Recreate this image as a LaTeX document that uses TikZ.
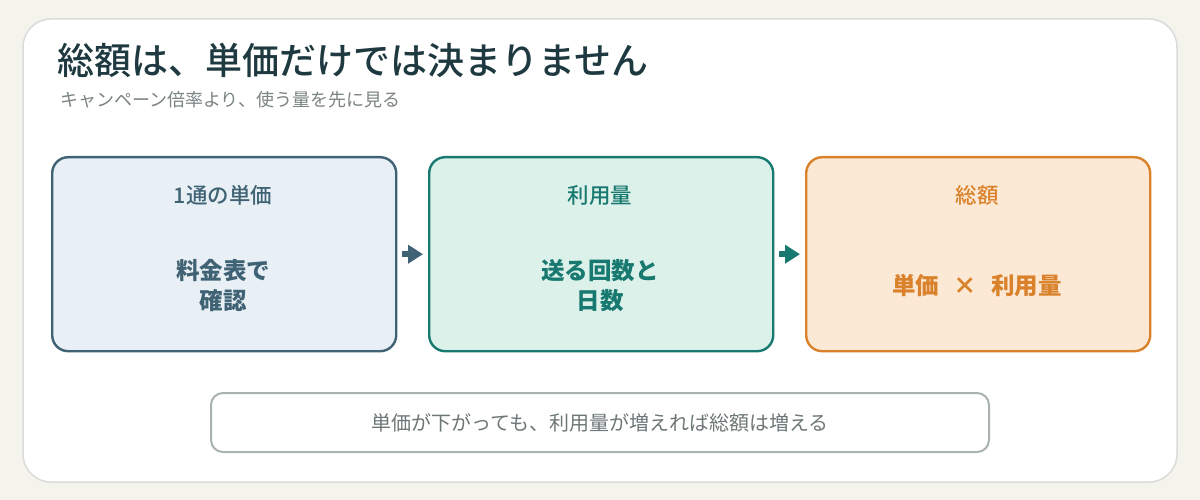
\documentclass[tikz,border=0pt]{standalone}
\usepackage{fontspec}
\newfontfamily\jp{Noto Sans CJK JP}
\newfontfamily\jpm{Noto Sans CJK JP Medium}
\usetikzlibrary{arrows.meta}
\definecolor{bgc}{HTML}{F4F3EC}
\definecolor{cardline}{HTML}{DADDDA}
\definecolor{titlec}{HTML}{1E3A40}
\definecolor{subc}{HTML}{7B8383}
\definecolor{blueline}{HTML}{3F6274}
\definecolor{bluefill}{HTML}{E8F0F5}
\definecolor{tealline}{HTML}{17796F}
\definecolor{tealfill}{HTML}{DDF1EB}
\definecolor{orline}{HTML}{D9822B}
\definecolor{orfill}{HTML}{FCE9D5}
\definecolor{noteline}{HTML}{A9B2B1}
\definecolor{notetext}{HTML}{6E7777}
\tikzset{
  stagebox/.style={draw, line width=2.4pt, rounded corners=16pt, minimum width=344pt, minimum height=194pt, anchor=north west},
  headtxt/.style={font=\jpm\fontsize{21.5}{25}\selectfont},
  bodytxt/.style={font=\jp\fontsize{23.5}{30}\selectfont\bfseries, align=center},
  flowarrow/.style={line width=6pt, -{Triangle[length=15pt,width=18pt]}, shorten <=5pt, shorten >=5pt}
}
\begin{document}
\begin{tikzpicture}[x=1pt,y=-1pt]
\useasboundingbox (0,0) rectangle (1200,500);
\fill[bgc] (0,0) rectangle (1200,500);
\draw[cardline, fill=white, line width=1.5pt, rounded corners=28pt] (23,19) rectangle (1177,482);
\node[anchor=base west, inner sep=0, text=titlec, font=\jpm\fontsize{37}{42}\selectfont] (title) at (57,75) {総額は、単価だけでは決まりません};
\node[anchor=base west, inner sep=0, text=subc, font=\jp\fontsize{18}{21}\selectfont] (sub) at (60,107) {キャンペーン倍率より、使う量を先に見る};

\node[stagebox, blueline, fill=bluefill] (b1) at (51,156) {};
\node[stagebox, tealline, fill=tealfill] (b2) at (428,156) {};
\node[stagebox, orline, fill=orfill] (b3) at (805,156) {};

\node[headtxt, text=blueline] (h1) at (223,195) {1通の単価};
\node[headtxt, text=tealline] (h2) at (600,195) {利用量};
\node[headtxt, text=orline] (h3) at (977,195) {総額};

\node[bodytxt, text=blueline] (t1) at (223,286) {料金表で\\確認};
\node[bodytxt, text=tealline] (t2) at (600,286) {送る回数と\\日数};
\node[bodytxt, text=orline] (t3) at (977,286) {単価\hspace{0.6em}×\hspace{0.6em}利用量};

\draw[flowarrow, blueline] (b1.east) -- (b2.west);
\draw[flowarrow, tealline] (b2.east) -- (b3.west);

\node[draw=noteline, line width=2pt, fill=white, rounded corners=12pt, minimum width=778pt, minimum height=59pt, text=notetext, font=\jp\fontsize{20}{24}\selectfont] (note) at (600,422.5) {単価が下がっても、利用量が増えれば総額は増える};
\end{tikzpicture}
\end{document}
